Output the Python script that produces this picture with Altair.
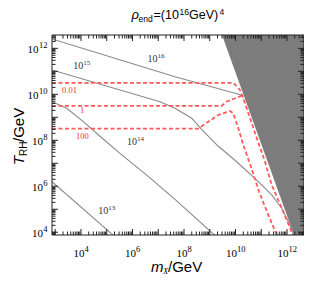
import altair as alt
import pandas as pd

# ---------------- data (log10 values) ----------------
x_dom_log = [2.874, 12.66]      # log10(m / GeV) range of the frame
y_dom_log = [3.88, 12.58]       # log10(T_RH / GeV) range of the frame

# grey contours (labelled 10^16 ... 10^13)
c16_m = [2.874, 7.651, 9.981, 10.311]
c16_T = [12.41, 10.767, 10.045, 9.95]
c15_m = [2.874, 7.068, 7.651, 8.299, 8.688, 9.332, 9.981, 10.886, 11.406, 11.794, 12.051, 12.311]
c15_T = [11.058, 9.68, 9.393, 8.96, 8.47, 7.74, 7.13, 6.202, 5.623, 5.045, 4.463, 3.754]
c14_m = [2.874, 3.445, 4.090, 4.738, 5.515, 6.680, 7.651, 9.243, 9.6]
c14_T = [9.680, 9.393, 8.810, 8.176, 7.428, 6.363, 5.428, 3.819, 3.46]
c13_m = [2.874, 5.63]
c13_T = [6.20, 3.5]

# red dashed curves (labelled 0.01, 1, 100)
r001_m = [2.874, 9.915, 10.175, 10.303, 10.563, 10.824, 11.146, 11.406, 11.794, 12.117, 12.245, 12.35]
r001_T = [10.5, 10.5, 10.189, 9.828, 8.971, 8.102, 7.071, 6.058, 5.058, 4.189, 3.81, 3.5]
r1_m = [2.874, 9.464, 9.658, 10.047, 10.241, 10.303]
r1_T = [9.5, 9.5, 9.68, 9.854, 9.941, 9.83]
r100_m = [2.874, 8.555, 8.944, 9.332, 9.787, 9.915, 10.109, 10.303, 10.621, 10.913, 11.274, 11.6, 11.69]
r100_T = [8.51, 8.51, 8.81, 9.102, 9.276, 9.176, 8.523, 7.797, 6.784, 5.767, 4.754, 3.884, 3.58]

# excluded (shaded) region edge
edge_m = [9.341, 12.394]
edge_T = [13.0, 3.5]
edge_mmax = 13.5

# contour labels: (exponent, log m, log T)
contour_exp = ["16", "15", "14", "13"]
contour_m = [6.971, 4.09, 6.175, 5.06]
contour_T = [11.419, 11.08, 7.776, 4.797]

# red labels
red_text = ["0.01", "1", "100"]
red_m = [3.554, 4.039, 4.058]
red_T = [10.045, 9.176, 8.045]

# tick labels
x_label_exp = [4, 6, 8, 10, 12]
y_label_exp = [4, 6, 8, 10, 12]

# ---------------- style ----------------
W, H = 252, 200
SERIF = "Liberation Serif"
SANS = "Liberation Sans"
FRAME = "#222222"
GREY = "#8a8a8a"
RED = "#ff5a5a"

xs = alt.Scale(type="log", domain=[10 ** x_dom_log[0], 10 ** x_dom_log[1]], nice=False)
ys = alt.Scale(type="log", domain=[10 ** y_dom_log[0], 10 ** y_dom_log[1]], nice=False)


def curves_df(curves):
    rows = []
    for name, (lm, lT) in curves.items():
        for i, (a, b) in enumerate(zip(lm, lT)):
            rows.append({"curve": name, "i": i, "m": 10 ** a, "T": 10 ** b})
    return pd.DataFrame(rows)


gray_df = curves_df({"16": (c16_m, c16_T), "15": (c15_m, c15_T),
                     "14": (c14_m, c14_T), "13": (c13_m, c13_T)})
red_df = curves_df({"0.01": (r001_m, r001_T), "1": (r1_m, r1_T), "100": (r100_m, r100_T)})

X = lambda f: alt.X(f, scale=xs, axis=None)
Y = lambda f: alt.Y(f, scale=ys, axis=None)

shade_df = pd.DataFrame({"T": [10 ** v for v in edge_T],
                         "mlo": [10 ** v for v in edge_m],
                         "mhi": [10 ** edge_mmax] * 2})
shade = alt.Chart(shade_df).mark_area(orient="horizontal", color="#7c7c7c", clip=True).encode(
    y=Y("T:Q"), x=X("mlo:Q"), x2="mhi:Q")

gray = alt.Chart(gray_df).mark_line(color=GREY, strokeWidth=1.1, clip=True).encode(
    x=X("m:Q"), y=Y("T:Q"), detail="curve:N", order="i:Q")
red = alt.Chart(red_df).mark_line(color=RED, strokeWidth=1.8, strokeDash=[4, 2.5], clip=True).encode(
    x=X("m:Q"), y=Y("T:Q"), detail="curve:N", order="i:Q")

# contour labels
cl_df = pd.DataFrame({"e": contour_exp, "m": [10 ** v for v in contour_m], "T": [10 ** v for v in contour_T]})
cl_base = alt.Chart(cl_df).mark_text(font=SERIF, fontSize=10, align="right", baseline="alphabetic", color="#333333").encode(
    x=X("m:Q"), y=Y("T:Q"), text=alt.value("10"))
cl_exp = alt.Chart(cl_df).mark_text(font=SERIF, fontSize=7, align="left", baseline="alphabetic", dy=-4, color="#333333").encode(
    x=X("m:Q"), y=Y("T:Q"), text="e:N")

rl_df = pd.DataFrame({"t": red_text, "m": [10 ** v for v in red_m], "T": [10 ** v for v in red_T]})
rl = alt.Chart(rl_df).mark_text(font=SERIF, fontSize=8.5, align="center", baseline="alphabetic", color="#ff3030").encode(
    x=X("m:Q"), y=Y("T:Q"), text="t:N")

# ticks (inward, on all four sides)
xmaj = [10 ** k for k in range(3, 13)]
xmin_ = [m * 10 ** k for k in range(2, 13) for m in range(2, 10)
         if 10 ** x_dom_log[0] < m * 10 ** k < 10 ** x_dom_log[1]]
ymaj = [10 ** k for k in range(4, 13)]
ymin_ = [m * 10 ** k for k in range(3, 13) for m in range(2, 10)
         if 10 ** y_dom_log[0] < m * 10 ** k < 10 ** y_dom_log[1]]


def xt(vals, L):
    b = alt.Chart(pd.DataFrame({"v": vals}))
    return [b.mark_rule(color=FRAME, strokeWidth=1).encode(x=X("v:Q"), y=alt.value(H), y2=alt.value(H - L)),
            b.mark_rule(color=FRAME, strokeWidth=1).encode(x=X("v:Q"), y=alt.value(0), y2=alt.value(L))]


def yt(vals, L):
    b = alt.Chart(pd.DataFrame({"v": vals}))
    return [b.mark_rule(color=FRAME, strokeWidth=1).encode(y=Y("v:Q"), x=alt.value(0), x2=alt.value(L)),
            b.mark_rule(color=FRAME, strokeWidth=1).encode(y=Y("v:Q"), x=alt.value(W), x2=alt.value(W - L))]


ticks = xt(xmaj, 6) + xt(xmin_, 3.5) + yt(ymaj, 6) + yt(ymin_, 3.5)

# tick labels
layers_lab = []
for digits in (1, 2):
    xe = [e for e in x_label_exp if len(str(e)) == digits]
    d = pd.DataFrame({"v": [10 ** e for e in xe], "e": [str(e) for e in xe]})
    dxb = 3.5 if digits == 1 else 1.5
    layers_lab.append(alt.Chart(d).mark_text(font=SERIF, fontSize=11, align="right", baseline="alphabetic", dx=dxb).encode(
        x=X("v:Q"), y=alt.value(221.7), text=alt.value("10")))
    layers_lab.append(alt.Chart(d).mark_text(font=SERIF, fontSize=8.5, align="left", baseline="alphabetic", dx=dxb).encode(
        x=X("v:Q"), y=alt.value(216.5), text="e:N"))
    ye = [e for e in y_label_exp if len(str(e)) == digits]
    d2 = pd.DataFrame({"v": [10 ** e for e in ye], "e": [str(e) for e in ye]})
    xb = -9 if digits == 1 else -13.5
    layers_lab.append(alt.Chart(d2).mark_text(font=SERIF, fontSize=11, align="right", baseline="alphabetic", dy=5).encode(
        y=Y("v:Q"), x=alt.value(xb), text=alt.value("10")))
    layers_lab.append(alt.Chart(d2).mark_text(font=SERIF, fontSize=8.5, align="right", baseline="alphabetic", dy=0).encode(
        y=Y("v:Q"), x=alt.value(-4.5), text="e:N"))

one = pd.DataFrame({"a": [0]})


def label(text, px, py, size, font=SANS, style="normal", angle=0, color="black"):
    kw = dict(font=font, fontSize=size, align="left", baseline="alphabetic", color=color, fontStyle=style)
    if angle:
        kw["angle"] = angle
    return alt.Chart(one).mark_text(**kw).encode(x=alt.value(px), y=alt.value(py), text=alt.value(text))


titles = [
    # plot title
    label("ρ", 79.5, -16, 13, style="italic"),
    label("end", 86.5, -13, 8.5),
    label("=(10", 101.5, -16, 12.5),
    label("16", 127.5, -20.3, 8.5),
    label("GeV)", 137, -16, 12.5),
    label("4", 167.5, -20.3, 8.5),
    # x title
    label("m", 99, 236.7, 15, style="italic"),
    label("X", 111, 239.3, 8.5, font=SERIF, style="italic"),
    label("/GeV", 116, 236.7, 15),
    # y title
    label("T", -28, 130, 15, style="italic", angle=270),
    label("RH", -25, 121, 10, angle=270),
    label("/GeV", -28, 107, 15, angle=270),
]

frame = alt.Chart(one).mark_rect(filled=False, stroke=FRAME, strokeWidth=1).encode(
    x=alt.value(0), x2=alt.value(W), y=alt.value(0), y2=alt.value(H))

chart = alt.layer(shade, gray, red, cl_base, cl_exp, rl, *ticks, *layers_lab, *titles, frame).properties(
    width=W, height=H,
    padding={"left": 44, "top": 27, "right": 0, "bottom": 40},
    autosize=alt.AutoSizeParams(type="none"),
).configure_view(strokeWidth=0)

chart.save("out.html", embed_options={"renderer": "svg", "actions": False})
